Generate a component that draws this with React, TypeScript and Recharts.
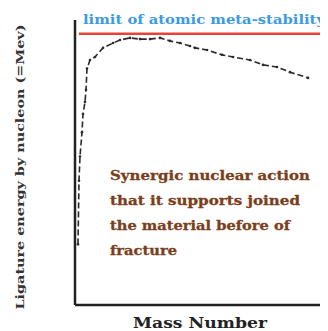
import React from "react";
import { LineChart, Line, XAxis, YAxis, ReferenceLine } from "recharts";

const massNumbers = [3, 4, 5, 7, 8, 10, 11, 12, 15, 20, 28, 38, 45, 55, 65, 75, 85, 95, 105, 115, 120, 132, 147, 158, 175, 188, 202, 215, 233];
const bindingEnergy = [2.0, 4.1, 4.9, 5.7, 6.3, 6.7, 7.1, 7.8, 8.08, 8.18, 8.48, 8.64, 8.74, 8.81, 8.77, 8.77, 8.81, 8.71, 8.64, 8.54, 8.48, 8.41, 8.25, 8.18, 8.08, 7.92, 7.85, 7.68, 7.49];
const limitValue = 8.95;
const yTitle = "Ligature energy by nucleon (=Mev)";
const xTitle = "Mass Number";
const limitLabel = "limit of atomic meta-stability";
const noteLines = ["Synergic nuclear action", "that it supports joined", "the material before of", "fracture"];
const noteWidths = [200, 190, 180, 67];

const data = massNumbers.map((a, i) => ({ a, e: bindingEnergy[i] }));

export default function App() {
  return (
    <div style={{ position: "relative", width: 328, height: 331, margin: "-8px 0 0 -8px", background: "#fff" }}>
      <LineChart width={328} height={331} data={data} margin={{ top: 20, right: 0, bottom: 26, left: 75 }}>
        <XAxis type="number" dataKey="a" domain={[0, 253]} hide />
        <YAxis type="number" domain={[0, 9.4]} hide />
        <ReferenceLine x={0} stroke="#222" strokeWidth={2.5} ifOverflow="visible" />
        <ReferenceLine y={0} stroke="#222" strokeWidth={2.5} ifOverflow="visible" />
        <ReferenceLine segment={[{ x: 4, y: limitValue }, { x: 253, y: limitValue }]} stroke="#e8413a" strokeWidth={2.5} />
        <Line type="linear" dataKey="e" stroke="#2a2a2a" strokeWidth={1.6} strokeDasharray="6 3" dot={{ r: 1.3, fill: "#2a2a2a", stroke: "none" }} isAnimationActive={false} />
      </LineChart>
      <svg width={328} height={331} style={{ position: "absolute", left: 0, top: 0, pointerEvents: "none" }}>
        <text x={170} y={4} textAnchor="middle" fontFamily="Liberation Serif, serif" fontSize={16} fill="#111">II)</text>
        <text x={83} y={24} fontFamily="DejaVu Serif, serif" fontWeight="bold" fontSize={13} fill="#3c9be0" textLength={242} lengthAdjust="spacingAndGlyphs">{limitLabel}</text>
        <text x={24} y={167} transform="rotate(-90 24 167)" textAnchor="middle" fontFamily="DejaVu Serif, serif" fontWeight="bold" fontSize={11} fill="#333" textLength={285} lengthAdjust="spacingAndGlyphs">{yTitle}</text>
        <text x={133} y={328} fontFamily="DejaVu Serif, serif" fontWeight="bold" fontSize={15} fill="#222" textLength={134} lengthAdjust="spacingAndGlyphs">{xTitle}</text>
        {noteLines.map((t, i) => (
          <text key={i} x={110} y={180 + i * 25} fontFamily="DejaVu Serif, serif" fontWeight="bold" fontSize={13.5} fill="#7a3e1c" stroke="#7a3e1c" strokeWidth={0.3} textLength={noteWidths[i]} lengthAdjust="spacingAndGlyphs">{t}</text>
        ))}
      </svg>
    </div>
  );
}
